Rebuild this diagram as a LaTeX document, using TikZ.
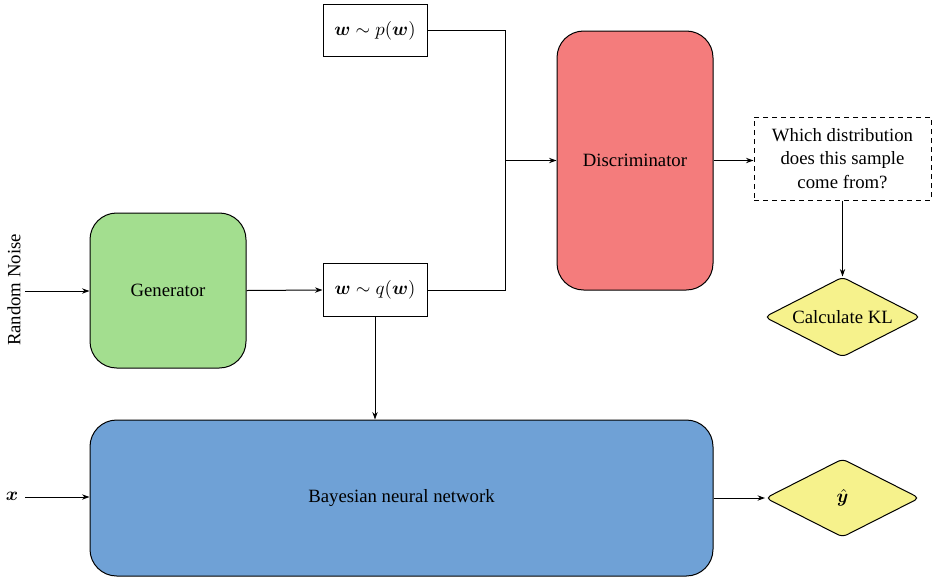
\documentclass[tikz,border=0pt]{standalone}
\usepackage{fix-cm}
\usepackage{amsmath}
\usepackage{bm}
\usepackage[no-math]{fontspec}
\setmainfont{Liberation Serif}
\usetikzlibrary{arrows.meta,shapes.geometric}

\definecolor{gengreen}{RGB}{163,222,143}
\definecolor{discred}{RGB}{244,124,124}
\definecolor{bnnblue}{RGB}{111,161,214}
\definecolor{outyellow}{RGB}{246,242,140}

\tikzset{
  base/.style={draw=black, line width=0.6pt, inner sep=0pt,
    font=\fontsize{11.25}{14.2}\selectfont, align=center},
  block/.style={base, rounded corners=16pt},
  samplebox/.style={base, minimum width=62.4pt, minimum height=31.5pt},
  querybox/.style={base, dash pattern=on 3pt off 2.4pt,
    minimum width=106.2pt, minimum height=49.8pt},
  outdiamond/.style={base, diamond, aspect=2, rounded corners=3pt, fill=outyellow},
  flow/.style={line width=0.6pt, -{Stealth[length=4.5pt,width=3.2pt]}},
  wire/.style={line width=0.6pt},
  lbl/.style={font=\fontsize{11.25}{15}\selectfont, inner sep=0pt}
}

\begin{document}
\begin{tikzpicture}[x=0.6pt,y=-0.6pt]
\useasboundingbox (0,0) rectangle (933,578);

% main blocks
\node[block, fill=gengreen, minimum width=93.6pt, minimum height=93pt] (gen) at (168,290.5) {Generator};
\node[block, fill=discred, minimum width=93.6pt, minimum height=155.4pt] (disc) at (635,160.5) {Discriminator};
\node[block, fill=bnnblue, minimum width=373.8pt, minimum height=93.6pt] (bnn) at (401.5,498) {Bayesian neural network};

% weight samples
\node[samplebox] (pw) at (375,30.5) {$\bm{w} \sim p(\bm{w})$};
\node[samplebox] (qw) at (375,290) {$\bm{w} \sim q(\bm{w})$};

% question and outputs
\node[querybox] (ask) at (842.5,158.5) {Which distribution\\does this sample\\come from?};
\node[outdiamond, minimum width=93.6pt, minimum height=48pt] (kl) at (842.5,317) {Calculate KL};
\node[outdiamond, minimum width=92.4pt, minimum height=47pt] (yhat) at (842.5,498) {$\hat{\bm{y}}$};

% inputs
\node[lbl, rotate=90] (noise) at (14,290) {Random Noise};
\node[lbl] (xin) at (12,496) {$\bm{x}$};
\coordinate (noisestart) at (25,291);
\coordinate (xstart) at (25,497);
\coordinate (merge) at (505,160.5);

% connectors
\draw[flow] (noisestart) -- (noisestart -| gen.west);
\draw[flow] (xstart) -- (xstart -| bnn.west);
\draw[flow] (gen.east) -- (qw.west);
\draw[wire] (pw.east) -| (merge);
\draw[wire] (qw.east) -| (merge);
\draw[flow] (merge) -- (disc.west);
\draw[flow] (disc.east) -- (disc.east -| ask.west);
\draw[flow] (ask.south) -- (kl.north);
\draw[flow] (qw.south) -- (qw.south |- bnn.north);
\draw[flow] (bnn.east) -- (yhat.west);
\end{tikzpicture}
\end{document}
